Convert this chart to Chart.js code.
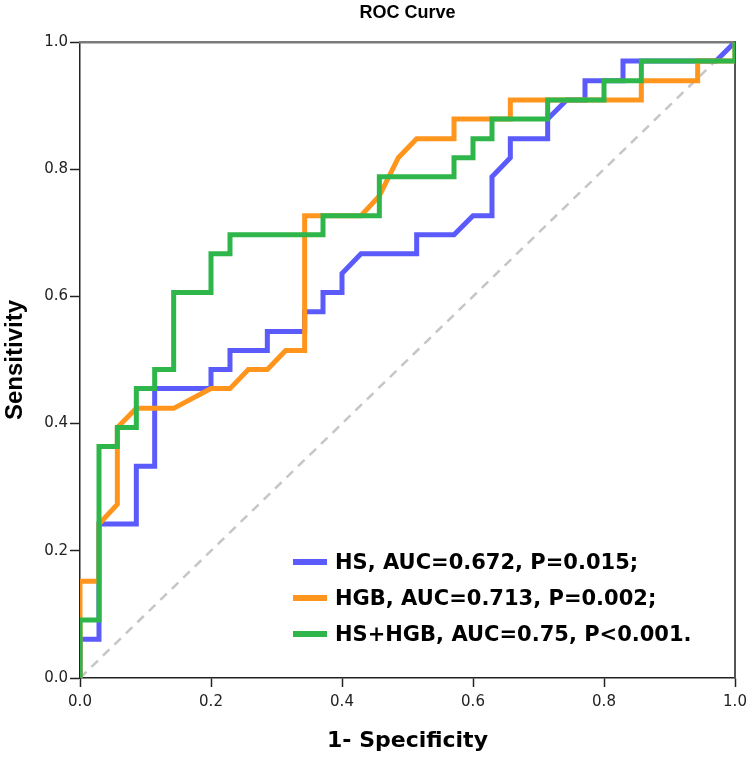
<!DOCTYPE html>
<html>
<head>
<meta charset="utf-8">
<style>
  html, body { margin: 0; padding: 0; background: #fff; }
  canvas { display: block; }
</style>
<script src="https://cdn.jsdelivr.net/npm/chart.js@4.4.1/dist/chart.umd.min.js"></script>
</head>
<body>
<canvas id="roc" width="749" height="757"></canvas>
<script>
// ROC steps (1 - specificity, sensitivity)
const hsX = [0, 0, 0.029, 0.029, 0.086, 0.086, 0.114, 0.114, 0.2, 0.2, 0.229, 0.229, 0.286, 0.286, 0.343, 0.343, 0.371, 0.371, 0.4, 0.4, 0.429, 0.514, 0.514, 0.571, 0.6, 0.629, 0.629, 0.657, 0.657, 0.714, 0.714, 0.743, 0.771, 0.771, 0.829, 0.829, 0.971, 1];
const hsY = [0, 0.061, 0.061, 0.242, 0.242, 0.333, 0.333, 0.455, 0.455, 0.485, 0.485, 0.515, 0.515, 0.545, 0.545, 0.576, 0.576, 0.606, 0.606, 0.636, 0.667, 0.667, 0.697, 0.697, 0.727, 0.727, 0.788, 0.818, 0.848, 0.848, 0.879, 0.909, 0.909, 0.939, 0.939, 0.970, 0.970, 1];

const hgbX = [0, 0, 0.029, 0.029, 0.057, 0.057, 0.086, 0.143, 0.2, 0.229, 0.257, 0.286, 0.314, 0.343, 0.343, 0.429, 0.457, 0.486, 0.514, 0.571, 0.571, 0.657, 0.657, 0.857, 0.857, 0.943, 0.943, 1, 1];
const hgbY = [0, 0.152, 0.152, 0.242, 0.273, 0.394, 0.424, 0.424, 0.455, 0.455, 0.485, 0.485, 0.515, 0.515, 0.727, 0.727, 0.758, 0.818, 0.848, 0.848, 0.879, 0.879, 0.909, 0.909, 0.939, 0.939, 0.970, 0.970, 1];

const comboX = [0, 0, 0.029, 0.029, 0.057, 0.057, 0.086, 0.086, 0.114, 0.114, 0.143, 0.143, 0.2, 0.2, 0.229, 0.229, 0.371, 0.371, 0.457, 0.457, 0.571, 0.571, 0.6, 0.6, 0.629, 0.629, 0.714, 0.714, 0.8, 0.8, 0.857, 0.857, 1, 1];
const comboY = [0, 0.091, 0.091, 0.364, 0.364, 0.394, 0.394, 0.455, 0.455, 0.485, 0.485, 0.606, 0.606, 0.667, 0.667, 0.697, 0.697, 0.727, 0.727, 0.788, 0.788, 0.818, 0.818, 0.848, 0.848, 0.879, 0.879, 0.909, 0.909, 0.939, 0.939, 0.970, 0.970, 1];

const refX = [0, 1];
const refY = [0, 1];

const seriesLabels = ['HS, AUC=0.672, P=0.015;', 'HGB, AUC=0.713, P=0.002;', 'HS+HGB, AUC=0.75, P<0.001.'];
const tickValues = [0, 0.2, 0.4, 0.6, 0.8, 1.0];

function toPoints(xs, ys) {
  return xs.map((x, i) => ({ x: x, y: ys[i] }));
}

const BLUE = '#5b5bfb';
const ORANGE = '#ff951c';
const GREEN = '#2fb64a';
const AXIS = '#222222';
const FRAME = '#7a7a7a';

// legend drawn inside the plot, lower right (SPSS style)
const innerLegend = {
  id: 'innerLegend',
  afterDraw(chart) {
    const ctx = chart.ctx;
    const sets = chart.data.datasets.filter(d => d.inLegend);
    const swatchY = [562, 598, 634];
    const textY = [569, 605, 641];
    ctx.save();
    sets.forEach((d, i) => {
      ctx.strokeStyle = d.borderColor;
      ctx.lineWidth = 6;
      ctx.lineCap = 'butt';
      ctx.beginPath();
      ctx.moveTo(293, swatchY[i]);
      ctx.lineTo(327, swatchY[i]);
      ctx.stroke();
      ctx.fillStyle = '#000';
      ctx.font = 'bold 21px "DejaVu Sans"';
      ctx.textAlign = 'left';
      ctx.textBaseline = 'alphabetic';
      ctx.fillText(d.label, 335, textY[i]);
    });
    ctx.restore();
  }
};

function tickLabel(v) {
  return tickValues.some(t => Math.abs(t - v) < 1e-6) ? Number(v).toFixed(1) : '';
}

// fixed axis sizes so the plot box sits where the reference has it
function fixX(scale) {
  scale.height = 79;
  scale.paddingLeft = 0;
  scale.paddingRight = 0;
}
function fixY(scale) {
  scale.width = 80;
  scale.paddingTop = 0;
  scale.paddingBottom = 0;
}

const ctx = document.getElementById('roc');
new Chart(ctx, {
  type: 'line',
  data: {
    datasets: [
      {
        label: 'reference',
        data: toPoints(refX, refY),
        borderColor: '#c6c6c6',
        borderWidth: 2.5,
        borderDash: [9, 7],
        pointRadius: 0,
        order: 4,
        inLegend: false
      },
      {
        label: seriesLabels[0],
        data: toPoints(hsX, hsY),
        borderColor: BLUE,
        borderWidth: 5,
        pointRadius: 0,
        order: 3,
        inLegend: true
      },
      {
        label: seriesLabels[1],
        data: toPoints(hgbX, hgbY),
        borderColor: ORANGE,
        borderWidth: 5,
        pointRadius: 0,
        order: 2,
        inLegend: true
      },
      {
        label: seriesLabels[2],
        data: toPoints(comboX, comboY),
        borderColor: GREEN,
        borderWidth: 5,
        pointRadius: 0,
        order: 1,
        inLegend: true
      }
    ]
  },
  options: {
    responsive: false,
    animation: false,
    devicePixelRatio: 1,
    layout: {
      autoPadding: false,
      padding: { left: 0, right: 14, top: 0, bottom: 0 }
    },
    elements: {
      line: { tension: 0, fill: false, borderJoinStyle: 'miter', borderCapStyle: 'butt' }
    },
    datasets: {
      line: { clip: 0 }
    },
    plugins: {
      legend: { display: false },
      tooltip: { enabled: false },
      title: {
        display: true,
        text: 'ROC Curve',
        fullSize: false,
        color: '#000',
        font: { family: '"Liberation Sans"', size: 18, weight: 'bold', lineHeight: 1.2 },
        padding: { top: 2, bottom: 18.4 }
      }
    },
    scales: {
      x: {
        type: 'linear',
        position: 'bottom',
        min: 0,
        max: 1,
        afterFit: fixX,
        ticks: {
          stepSize: 0.2,
          padding: 6,
          color: '#222',
          font: { family: '"DejaVu Sans"', size: 15 },
          maxRotation: 0,
          callback: tickLabel
        },
        grid: {
          drawOnChartArea: false,
          drawTicks: true,
          tickLength: 9,
          tickColor: AXIS,
          tickWidth: 1.5
        },
        border: { color: AXIS, width: 1.5 },
        title: {
          display: true,
          text: '1- Specificity',
          color: '#000',
          font: { family: '"DejaVu Sans"', size: 22, weight: 'bold', lineHeight: 1.2 },
          padding: { top: 0, bottom: 3 }
        }
      },
      y: {
        type: 'linear',
        position: 'left',
        min: 0,
        max: 1,
        afterFit: fixY,
        ticks: {
          stepSize: 0.2,
          padding: 2,
          color: '#222',
          font: { family: '"DejaVu Sans"', size: 15 },
          callback: tickLabel
        },
        grid: {
          drawOnChartArea: false,
          drawTicks: true,
          tickLength: 10,
          tickColor: AXIS,
          tickWidth: 1.5
        },
        border: { color: AXIS, width: 1.5 },
        title: {
          display: true,
          text: 'Sensitivity',
          color: '#000',
          font: { family: '"Liberation Sans"', size: 24, weight: 'bold', lineHeight: 1.2 },
          padding: { top: 1, bottom: 0 }
        }
      },
      xTop: {
        type: 'linear',
        position: 'top',
        min: 0,
        max: 1,
        afterFit: function(scale) { scale.height = 0; scale.paddingLeft = 0; scale.paddingRight = 0; },
        ticks: { display: false },
        grid: { drawOnChartArea: false, drawTicks: false },
        border: { color: FRAME, width: 2.5 }
      },
      yRight: {
        type: 'linear',
        position: 'right',
        min: 0,
        max: 1,
        afterFit: function(scale) { scale.width = 0; scale.paddingTop = 0; scale.paddingBottom = 0; },
        ticks: { display: false },
        grid: { drawOnChartArea: false, drawTicks: false },
        border: { color: '#555', width: 2 }
      }
    }
  },
  plugins: [innerLegend]
});
</script>
</body>
</html>
